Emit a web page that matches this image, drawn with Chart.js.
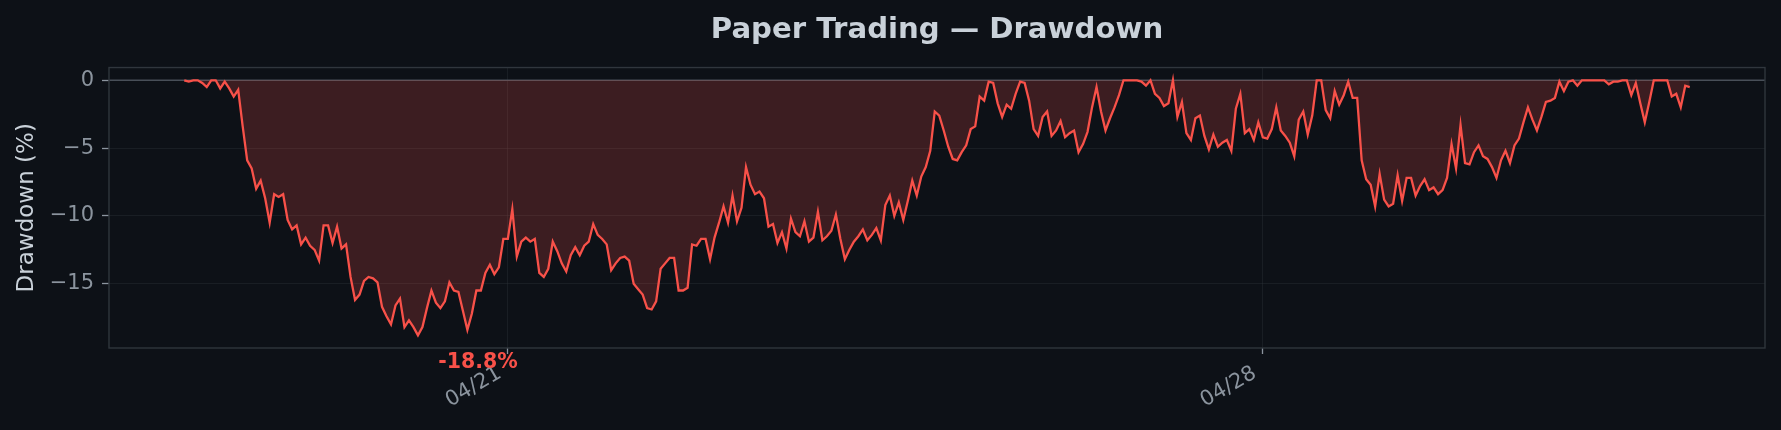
<!DOCTYPE html>
<html>
<head>
<meta charset="utf-8">
<script src="https://cdn.jsdelivr.net/npm/chart.js@4.4.1/dist/chart.umd.min.js"></script>
<style>
  html, body { margin: 0; padding: 0; background: #0d1117; }
  #wrap { width: 1781px; height: 430px; }
</style>
</head>
<body>
<div id="wrap"><canvas id="c" width="1781" height="430"></canvas></div>
<script>
// ---- DATA (hourly drawdown in %, starting 04/18 00:00) ----
const titleText = 'Paper Trading — Drawdown';
const yAxisTitle = 'Drawdown (%)';
const drawdown = [
  0, -0.1, 0, 0, -0.2, -0.5, 0, 0, -0.6, -0.1, -0.6, -1.2,
  -0.7, -3.4, -5.9, -6.5, -8.0, -7.4, -8.7, -10.5, -8.4, -8.6, -8.4, -10.3,
  -11.0, -10.7, -12.1, -11.6, -12.2, -12.5, -13.3, -10.7, -10.7, -12.0, -10.8, -12.4,
  -12.1, -14.5, -16.2, -15.8, -14.8, -14.5, -14.6, -14.9, -16.7, -17.4, -18.0, -16.6,
  -16.1, -18.2, -17.7, -18.2, -18.8, -18.2, -16.8, -15.5, -16.4, -16.8, -16.3, -14.9,
  -15.5, -15.6, -17.0, -18.4, -17.2, -15.5, -15.5, -14.2, -13.6, -14.3, -13.8, -11.7,
  -11.7, -9.5, -13.0, -11.9, -11.6, -11.9, -11.7, -14.2, -14.5, -13.9, -11.9, -12.6,
  -13.5, -14.1, -12.9, -12.3, -12.9, -12.2, -11.9, -10.6, -11.4, -11.7, -12.1, -14.0,
  -13.5, -13.1, -13.0, -13.3, -15.0, -15.4, -15.8, -16.8, -16.9, -16.3, -13.9, -13.5,
  -13.1, -13.1, -15.5, -15.5, -15.3, -12.1, -12.2, -11.7, -11.7, -13.2, -11.6, -10.5,
  -9.3, -10.5, -8.5, -10.4, -9.4, -6.4, -7.7, -8.4, -8.2, -8.7, -10.8, -10.6,
  -12.0, -11.2, -12.4, -10.2, -11.2, -11.5, -10.4, -11.9, -11.6, -9.7, -11.8, -11.5,
  -11.1, -9.9, -11.7, -13.2, -12.5, -11.9, -11.5, -11.0, -11.8, -11.4, -10.9, -11.8,
  -9.2, -8.5, -10.0, -9.0, -10.3, -8.9, -7.4, -8.5, -7.1, -6.4, -5.2, -2.3,
  -2.6, -3.7, -4.9, -5.8, -5.9, -5.3, -4.8, -3.6, -3.4, -1.2, -1.5, -0.1,
  -0.2, -1.7, -2.7, -1.8, -2.1, -1.0, -0.1, -0.2, -1.5, -3.6, -4.1, -2.7,
  -2.3, -4.1, -3.7, -3.0, -4.2, -3.9, -3.7, -5.3, -4.7, -3.8, -2.0, -0.5,
  -2.3, -3.7, -2.8, -2.0, -1.1, 0, 0, 0, 0, -0.1, -0.4, 0,
  -1.0, -1.3, -1.9, -1.7, 0, -2.7, -1.6, -3.9, -4.4, -2.8, -2.6, -4.1,
  -5.1, -4.0, -4.9, -4.6, -4.4, -5.2, -2.1, -1.0, -3.9, -3.6, -4.4, -3.1,
  -4.2, -4.3, -3.6, -2.0, -3.7, -4.1, -4.6, -5.6, -2.9, -2.3, -4.0, -2.6,
  0, 0, -2.2, -2.8, -0.8, -1.8, -1.1, -0.1, -1.3, -1.3, -5.9, -7.3,
  -7.7, -9.3, -6.9, -8.8, -9.3, -9.1, -7.0, -8.9, -7.2, -7.2, -8.5, -7.8,
  -7.3, -8.1, -7.9, -8.4, -8.1, -7.2, -4.7, -6.5, -3.3, -6.1, -6.2, -5.3,
  -4.8, -5.6, -5.8, -6.4, -7.2, -5.9, -5.2, -6.1, -4.8, -4.3, -3.1, -2.0,
  -2.9, -3.7, -2.7, -1.6, -1.5, -1.3, -0.1, -0.8, -0.1, 0, -0.4, 0,
  0, 0, 0, 0, 0, -0.3, -0.1, -0.1, 0, 0, -1.1, -0.2,
  -1.7, -3.1, -1.6, 0, 0, 0, 0, -1.2, -1.0, -2.0, -0.4, -0.5
];
const xTickHours = [72, 240];          // hours since 04/18 00:00
const xTickLabels = ['04/21', '04/28'];
const yTickValues = [0, -5, -10, -15];

// ---- derived ----
const points = drawdown.map((v, i) => ({ x: i, y: v }));
const n = drawdown.length;
const xMargin = 0.05 * (n - 1);
const dMin = Math.min(...drawdown), dMax = Math.max(...drawdown);
const ySpan = dMax - dMin;
const minIdx = drawdown.indexOf(dMin);

const COL_BG = '#0d1117';
const COL_LINE = '#f85149';
const COL_FILL = 'rgba(248,81,73,0.2)';
const COL_TICK = '#8b949e';
const COL_TEXT = '#c9d1d9';
const COL_SPINE = '#30363d';
const COL_GRID = 'rgba(48,54,61,0.35)';
const COL_ZERO = '#484f58';
const FONT = "'DejaVu Sans', sans-serif";

const decorPlugin = {
  id: 'decor',
  beforeDraw(chart) {
    const ctx = chart.ctx;
    ctx.save();
    ctx.fillStyle = COL_BG;
    ctx.fillRect(0, 0, chart.width, chart.height);
    ctx.restore();
  },
  beforeDatasetsDraw(chart) {
    const { ctx, chartArea: a, scales: { y } } = chart;
    const y0 = y.getPixelForValue(0);
    ctx.save();
    ctx.strokeStyle = COL_ZERO;
    ctx.lineWidth = 1.6;
    ctx.beginPath();
    ctx.moveTo(a.left, y0);
    ctx.lineTo(a.right, y0);
    ctx.stroke();
    ctx.restore();
  },
  afterDatasetsDraw(chart) {
    const { ctx, chartArea: a, scales: { x, y } } = chart;
    ctx.save();
    ctx.strokeStyle = COL_SPINE;
    ctx.lineWidth = 1.4;
    ctx.strokeRect(a.left, a.top, a.right - a.left, a.bottom - a.top);
    // annotation of the max drawdown
    const px = x.getPixelForValue(minIdx);
    const py = y.getPixelForValue(dMin);
    ctx.fillStyle = COL_LINE;
    ctx.font = "bold 20.5px " + FONT;
    ctx.textAlign = 'center';
    ctx.textBaseline = 'alphabetic';
    ctx.fillText(dMin.toFixed(1) + '%', px + 60, py + 33);
    ctx.restore();
  }
};

new Chart(document.getElementById('c'), {
  type: 'line',
  data: {
    datasets: [{
      data: points,
      borderColor: COL_LINE,
      backgroundColor: COL_FILL,
      borderWidth: 2.3,
      pointRadius: 0,
      tension: 0,
      fill: 'origin'
    }]
  },
  options: {
    responsive: false,
    animation: false,
    devicePixelRatio: 1,
    layout: { padding: { left: 0, right: 16, top: 0, bottom: 0 } },
    plugins: {
      legend: { display: false },
      tooltip: { enabled: false },
      title: {
        display: true,
        fullSize: false,
        text: titleText,
        color: COL_TEXT,
        font: { family: FONT, size: 29.2, weight: 'bold', lineHeight: 1.2 },
        padding: { top: 12.6, bottom: 19.9 }
      }
    },
    scales: {
      x: {
        type: 'linear',
        min: -xMargin,
        max: (n - 1) + xMargin,
        afterBuildTicks(s) { s.ticks = xTickHours.map(v => ({ value: v })); },
        afterFit(s) { s.height = 82; },
        border: { display: false },
        grid: { color: COL_GRID, lineWidth: 1, drawTicks: true, tickLength: 6, tickColor: COL_TICK, tickWidth: 1.3 },
        ticks: {
          color: COL_TICK,
          font: { family: FONT, size: 21 },
          minRotation: 30, maxRotation: 30,
          padding: 7,
          labelOffset: -8,
          autoSkip: false,
          callback(v) { const i = xTickHours.indexOf(v); return i >= 0 ? xTickLabels[i] : ''; }
        }
      },
      y: {
        type: 'linear',
        min: dMin - 0.05 * ySpan,
        max: dMax + 0.05 * ySpan,
        afterBuildTicks(s) { s.ticks = yTickValues.map(v => ({ value: v })); },
        afterFit(s) { s.width = 109; },
        border: { display: false },
        grid: { color: COL_GRID, lineWidth: 1, drawTicks: true, tickLength: 7, tickColor: COL_TICK, tickWidth: 1.3 },
        ticks: {
          color: COL_TICK,
          font: { family: FONT, size: 21 },
          padding: 8,
          callback(v) { return String(v).replace('-', '\u2212'); }
        },
        title: {
          display: true,
          text: yAxisTitle,
          color: COL_TEXT,
          font: { family: FONT, size: 23, lineHeight: 1.2 },
          padding: { top: 13.5, bottom: 0 }
        }
      }
    }
  },
  plugins: [decorPlugin]
});
</script>
</body>
</html>
